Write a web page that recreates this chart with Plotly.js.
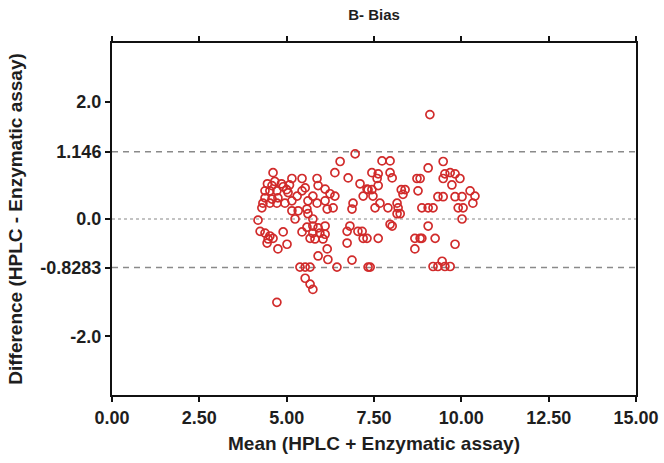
<!DOCTYPE html>
<html>
<head>
<meta charset="utf-8">
<script src="https://cdn.plot.ly/plotly-3.0.1.min.js"></script>
<style>html,body{margin:0;padding:0;background:#fff;}#chart{width:664px;height:463px;}</style>
</head>
<body>
<div id="chart"></div>
<script>
// Mean of the two methods (x) and their difference (y)
const meanVals = [
 4.61,5.15,5.44,4.38,4.52,4.72,4.38,4.58,4.75,4.32,4.52,4.72,4.95,5.15,5.30,5.44,5.53,5.61,5.75,4.29,
 5.15,5.33,5.58,5.61,5.24,4.18,4.24,4.38,4.52,4.47,4.61,4.90,4.44,4.75,5.01,5.44,5.58,5.67,5.75,5.38,
 5.53,5.67,5.53,5.67,5.75,4.72,4.90,5.04,4.58,4.85,5.00,4.45,4.66,5.08,
 6.96,6.53,6.38,6.76,5.87,5.90,7.10,7.30,6.10,6.24,6.38,5.87,6.10,6.33,6.16,6.90,6.87,5.75,5.90,
 6.10,5.75,5.95,6.10,5.81,6.04,6.81,6.73,7.04,7.19,6.73,6.16,5.90,6.18,6.87,6.44,7.33,
 7.73,7.96,7.44,7.62,7.96,8.02,7.59,7.47,7.62,8.28,8.33,8.76,8.73,7.67,7.53,7.90,8.16,8.19,8.16,7.96,
 7.30,7.62,8.67,8.82,8.67,7.39,7.19,7.33,7.44,8.39,8.25,8.02,7.16,
 9.10,9.48,9.05,9.53,9.68,9.82,9.48,9.96,9.73,8.82,10.25,10.39,10.33,9.33,9.48,9.82,10.02,8.87,9.05,9.19,
 9.91,10.05,10.02,9.05,8.87,9.25,9.82,9.19,9.33,9.45,9.53,9.68
];
const diffVals = [
 0.79,0.69,0.69,0.48,0.48,0.48,0.36,0.34,0.36,0.27,0.27,0.27,0.27,0.31,0.39,0.48,0.53,0.31,0.39,0.19,
 0.14,0.14,0.17,0.09,0.00,-0.02,-0.21,-0.24,-0.29,-0.34,-0.33,-0.22,-0.41,-0.51,-0.43,-0.22,-0.14,-0.33,-0.12,-0.82,
 -0.82,-0.82,-1.01,-1.11,-1.20,-1.42,0.55,0.45,0.57,0.60,0.50,0.60,0.64,0.58,
 1.11,0.98,0.79,0.70,0.69,0.57,0.60,0.51,0.51,0.43,0.39,0.27,0.31,0.19,0.17,0.27,0.17,0.00,-0.15,
 -0.12,-0.24,-0.24,-0.26,-0.34,-0.34,-0.12,-0.21,-0.21,-0.33,-0.41,-0.51,-0.63,-0.69,-0.70,-0.82,-0.82,
 0.99,0.99,0.79,0.77,0.79,0.70,0.69,0.39,0.57,0.50,0.42,0.48,0.69,0.27,0.19,0.19,0.27,0.19,0.09,-0.09,
 -0.33,-0.33,-0.33,-0.33,-0.51,-0.82,0.39,0.50,0.50,0.50,0.09,-0.12,-0.21,
 1.78,0.98,0.87,0.77,0.79,0.77,0.69,0.69,0.58,0.69,0.48,0.39,0.27,0.38,0.38,0.38,0.38,0.19,0.19,0.19,
 0.19,0.19,0.00,-0.12,-0.33,-0.33,-0.43,-0.81,-0.81,-0.72,-0.81,-0.81
];
const upperLoA = 1.146;
const lowerLoA = -0.8283;
const zeroLine = 0.0;
const yTickVals = [-2.0, lowerLoA, 0.0, upperLoA, 2.0];
const yTickText = ['-2.0', '-0.8283', '0.0', '1.146', '2.0'];
const xTickVals = [0, 2.5, 5, 7.5, 10, 12.5, 15];

const txt = '#1e1e1e';
const fontFam = 'Liberation Sans, Arial, sans-serif';

const trace = {
  x: meanVals, y: diffVals, type: 'scatter', mode: 'markers',
  marker: {symbol: 'circle-open', size: 8, color: '#d12b2b', line: {width: 1.7, color: '#d12b2b'}},
  hoverinfo: 'x+y'
};

const layout = {
  width: 664, height: 463,
  margin: {l: 112, r: 28, t: 43, b: 68},
  paper_bgcolor: '#fff', plot_bgcolor: '#fff',
  showlegend: false,
  font: {family: fontFam, color: txt},
  title: {text: '<b>B- Bias</b>', font: {size: 15, family: fontFam, color: txt}, x: 0.5, xref: 'paper', y: 0.979, yref: 'container', yanchor: 'top'},
  xaxis: {
    range: [0, 15], tickvals: xTickVals, tickformat: '.2f',
    showgrid: false, zeroline: false,
    showline: true, linecolor: '#111', linewidth: 2, mirror: 'allticks',
    ticks: 'outside', ticklen: 5, tickwidth: 2, tickcolor: '#111',
    tickfont: {size: 18, family: fontFam, color: txt, weight: 'bold'},
    title: {text: '<b>Mean (HPLC + Enzymatic assay)</b>', font: {size: 19, family: fontFam, color: txt}, standoff: 10}
  },
  yaxis: {
    range: [-3, 3], tickvals: yTickVals, ticktext: yTickText,
    showgrid: false, zeroline: false,
    showline: true, linecolor: '#111', linewidth: 2, mirror: true,
    ticks: 'outside', ticklen: 5, tickwidth: 2, tickcolor: '#111',
    tickfont: {size: 18, family: fontFam, color: txt, weight: 'bold'},
    title: {text: '<b>Difference (HPLC - Enzymatic assay)</b>', font: {size: 19, family: fontFam, color: txt}, standoff: 13}
  },
  shapes: [
    {type: 'line', xref: 'paper', x0: 0, x1: 1, yref: 'y', y0: upperLoA, y1: upperLoA, line: {color: '#8a8a8a', width: 1.5, dash: '6px,5px'}, layer: 'below'},
    {type: 'line', xref: 'paper', x0: 0, x1: 1, yref: 'y', y0: lowerLoA, y1: lowerLoA, line: {color: '#8a8a8a', width: 1.5, dash: '6px,5px'}, layer: 'below'},
    {type: 'line', xref: 'paper', x0: 0, x1: 1, yref: 'y', y0: zeroLine, y1: zeroLine, line: {color: '#b0b0b0', width: 1.5, dash: 'dot'}, layer: 'below'}
  ]
};

Plotly.newPlot('chart', [trace], layout, {displayModeBar: false, staticPlot: true});
</script>
</body>
</html>
